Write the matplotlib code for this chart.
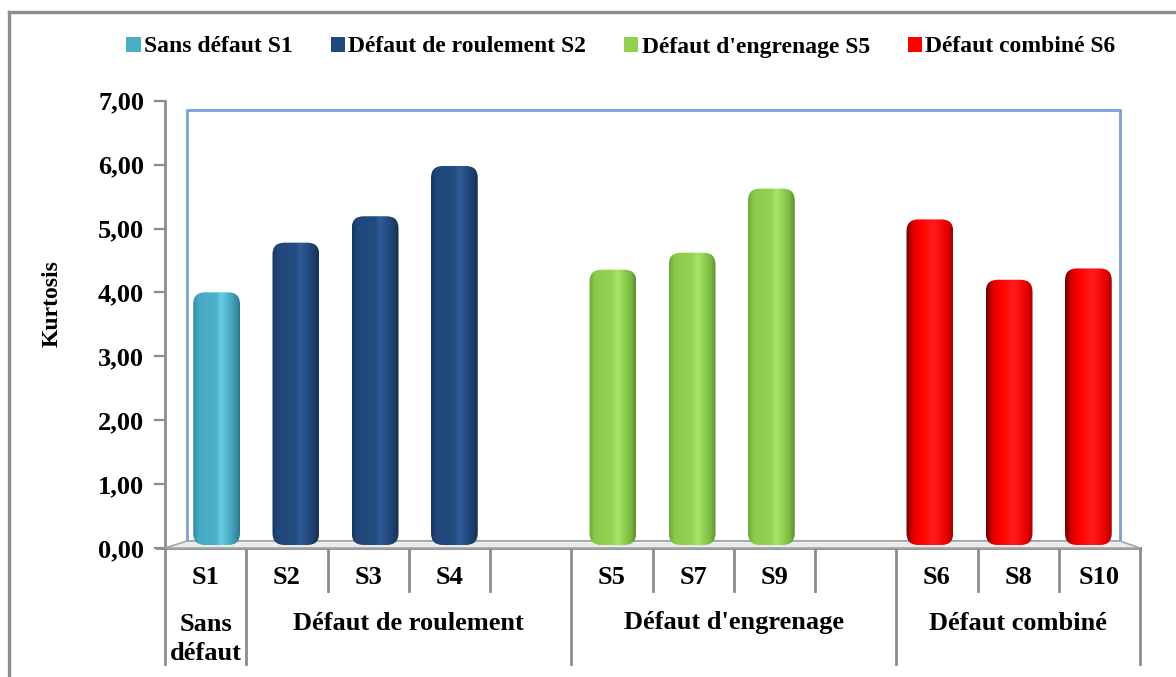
import numpy as np
import matplotlib
matplotlib.use("Agg")
import matplotlib.pyplot as plt
from matplotlib.patches import FancyBboxPatch, Polygon, Rectangle, Patch
from matplotlib.lines import Line2D
from matplotlib.colors import to_rgba
from matplotlib.transforms import blended_transform_factory

plt.rcParams["font.family"] = ["Liberation Serif", "DejaVu Serif"]
plt.rcParams["font.weight"] = "bold"

# Data (one slot per category position, empty slots between groups)
slot_labels = ["S1", "S2", "S3", "S4", "", "S5", "S7", "S9", "", "S6", "S8", "S10"]
kurtosis = [4.02, 4.81, 5.23, 6.03, np.nan, 4.38, 4.65, 5.67, np.nan, 5.18, 4.22, 4.40]
slot_series = [0, 1, 1, 1, -1, 2, 2, 2, -1, 3, 3, 3]

groups = ["Sans\ndéfaut", "Défaut de roulement", "Défaut d'engrenage", "Défaut combiné"]
group_slots = [1, 4, 4, 3]

legend_labels = ["Sans défaut S1", "Défaut de roulement S2",
                 "Défaut d'engrenage S5", "Défaut combiné S6"]
base_colors = ["#4bacc6", "#1f497d", "#92d050", "#ff0000"]

# cylinder shading stops per series
shade_stops = [
    [(0, "#2f88a0"), (0.12, "#47a9c3"), (0.5, "#4eb2cb"), (0.6, "#66cde5"),
     (0.72, "#52b7cf"), (0.9, "#3c96ac"), (1, "#2a778c")],
    [(0, "#173760"), (0.12, "#21477a"), (0.5, "#234c80"), (0.6, "#2f5d96"),
     (0.72, "#26508a"), (0.9, "#1c3e68"), (1, "#152e50")],
    [(0, "#6aa837"), (0.12, "#8cca4c"), (0.5, "#93d352"), (0.6, "#a9e468"),
     (0.72, "#96d555"), (0.9, "#79b541"), (1, "#5c9030")],
    [(0, "#700000"), (0.15, "#dd0000"), (0.3, "#ff0000"), (0.6, "#ff1c1c"),
     (0.85, "#ee0000"), (1, "#a80000")],
]

W, H = 1176, 677


def fx(x):
    return x / W


def fy(y):
    return 1 - y / H


fig = plt.figure(figsize=(W / 100, H / 100), dpi=100)

# outer frame
fig.add_artist(Line2D([fx(9), fx(9)], [fy(12), fy(677)], color="#8c8c8c", lw=2.4))
fig.add_artist(Line2D([fx(9), fx(1176)], [fy(12), fy(12)], color="#8c8c8c", lw=2.4))

# front axis (ticks + category table)
front = dict(l=165, r=1140, t=100.7, b=548)
axf = fig.add_axes([fx(front["l"]), fy(front["b"]),
                    fx(front["r"] - front["l"]), (front["b"] - front["t"]) / H])
axf.set_facecolor("none")
axf.set_xlim(-0.5, len(slot_labels) - 0.5)
axf.set_ylim(0, 7)
axf.set_yticks(range(0, 8))
axf.set_yticklabels([f"{v},00" for v in range(0, 8)], fontsize=19, fontweight="bold")
axf.tick_params(axis="y", length=8, width=1.6, color="#8c8c8c", pad=7)
axf.set_xticks([])
for s in ["top", "right", "bottom"]:
    axf.spines[s].set_visible(False)
axf.spines["left"].set_color("#8c8c8c")
axf.spines["left"].set_linewidth(2)
axf.set_ylabel("Kurtosis", fontsize=17, fontweight="bold")
axf.yaxis.set_label_coords((63 - front["l"]) / (front["r"] - front["l"]),
                           (front["b"] - 304) / (front["b"] - front["t"]))

# wall and floor (3D look)
wall = Rectangle((fx(187), fy(541)), fx(1120 - 187), (541 - 110) / H,
                 transform=fig.transFigure, facecolor="none",
                 edgecolor="#7ba1d6", lw=2, zorder=0.5)
fig.add_artist(wall)
floor = Polygon([(fx(165), fy(548)), (fx(187), fy(541)), (fx(1120), fy(541)), (fx(1140), fy(548))],
                closed=True, transform=fig.transFigure, facecolor="#ebebeb",
                edgecolor="#a6a6a6", lw=1.2, zorder=0.6)
fig.add_artist(floor)

# category table below the axis
trans = blended_transform_factory(axf.transData, axf.transAxes)
span = front["b"] - front["t"]


def ay(y):
    return (front["b"] - y) / span


axf.add_line(Line2D([-0.6, 11.5], [0, 0], transform=trans, color="#8c8c8c", lw=2, clip_on=False))
bounds = []
pos = -0.5
bounds.append(pos)
for n in group_slots:
    pos += n
    bounds.append(pos)
for k in range(len(slot_labels) + 1):
    b = k - 0.5
    y_end = ay(664) if b in bounds else ay(591)
    axf.add_line(Line2D([b, b], [0, y_end], transform=trans, color="#8c8c8c",
                        lw=2, clip_on=False))
for i, lab in enumerate(slot_labels):
    if lab:
        axf.text(i, ay(578), lab, transform=trans, ha="center", va="center",
                 fontsize=19, fontweight="bold")
for g, (name, n) in enumerate(zip(groups, group_slots)):
    center = (bounds[g] + bounds[g + 1]) / 2
    yy = ay(639) if "\n" in name else ay(623)
    axf.text(center, yy, name, transform=trans, ha="center", va="center",
             fontsize=19, fontweight="bold", linespacing=1.35)

# bars on the mid-depth plane
axb = fig.add_axes([fx(177), fy(545), fx(1128 - 177), (545 - 105) / H], zorder=2)
axb.set_facecolor("none")
axb.axis("off")
xpos = np.arange(len(slot_labels))
bars = axb.bar(xpos, np.nan_to_num(kurtosis), width=0.59, color="none")
for i, bar in enumerate(bars):
    if slot_series[i] < 0:
        continue
    x0, w, h = bar.get_x(), bar.get_width(), bar.get_height()
    patch = FancyBboxPatch((x0, 0), w, h,
                           boxstyle="round,pad=0,rounding_size=0.15",
                           mutation_aspect=1.26, facecolor="none",
                           edgecolor="none")
    axb.add_patch(patch)
    stops = shade_stops[slot_series[i]]
    t = np.linspace(0, 1, 200)
    sp = [s[0] for s in stops]
    cols = np.array([to_rgba(s[1]) for s in stops])
    grad = np.stack([np.interp(t, sp, cols[:, c]) for c in range(4)], axis=-1)[None, :, :]
    im = axb.imshow(grad, extent=(x0, x0 + w, 0, h), aspect="auto",
                    interpolation="bilinear", zorder=2)
    im.set_clip_path(patch)
axb.set_xlim(-0.5, len(slot_labels) - 0.5)
axb.set_ylim(0, 7)

# legend
handles = [Patch(facecolor=c, edgecolor="none") for c in base_colors]
fig.legend(handles, legend_labels, loc="center", bbox_to_anchor=(fx(621), fy(47)),
           ncol=4, frameon=False, prop={"size": 17, "weight": "bold"},
           handlelength=0.6, handleheight=0.6, handletextpad=0.15, columnspacing=1.6)

fig.savefig("out.png", dpi=100)
